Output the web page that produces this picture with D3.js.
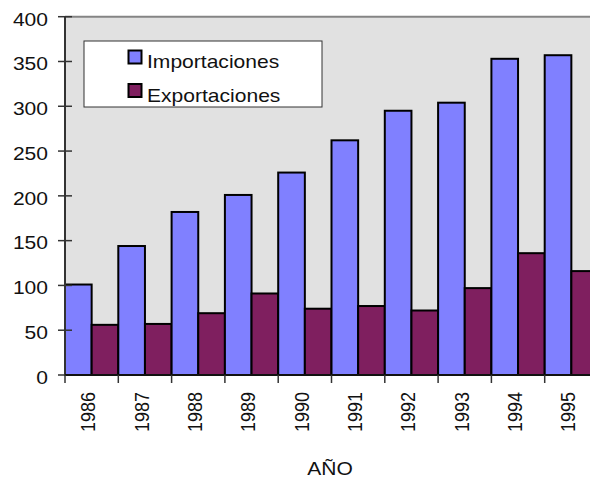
<!DOCTYPE html>
<html>
<head>
<meta charset="utf-8">
<script src="https://cdn.jsdelivr.net/npm/d3@7"></script>
<style>
  html, body { margin: 0; padding: 0; background: #ffffff; }
  svg { display: block; font-family: "Liberation Sans", Arial, sans-serif; }
</style>
</head>
<body>
<svg id="chart" width="590" height="482"></svg>
<script>
// Annual trade values, 1986-1995
const years = ["1986", "1987", "1988", "1989", "1990", "1991", "1992", "1993", "1994", "1995"];
const importaciones = [101, 144, 182, 201, 226, 262, 295, 304, 353, 357];
const exportaciones = [56, 57, 69, 91, 74, 77, 72, 97, 136, 116];
const seriesNames = ["Importaciones", "Exportaciones"];
const yTicks = [0, 50, 100, 150, 200, 250, 300, 350, 400];

const colors = ["#8080ff", "#7f1f5f"];
const stretch = 1.17; // glyphs are drawn slightly wide

const svg = d3.select("#chart");
const plotLeft = 65, plotRight = 598, plotTop = 16.7, plotBottom = 375;

const x = d3.scaleBand().domain(years).range([plotLeft, plotRight]).padding(0);
const xs = d3.scaleBand().domain(seriesNames).range([0, x.bandwidth()]).padding(0);
const y = d3.scaleLinear().domain([0, 400]).range([plotBottom, plotTop]);

// plot background
svg.append("rect")
  .attr("x", plotLeft).attr("y", plotTop)
  .attr("width", plotRight - plotLeft).attr("height", plotBottom - plotTop)
  .attr("fill", "#e1e1e1");

// top frame line
svg.append("line")
  .attr("x1", plotLeft).attr("x2", 590)
  .attr("y1", plotTop).attr("y2", plotTop)
  .attr("stroke", "#848484").attr("stroke-width", 2);

// bars
const rows = years.map((yr, i) => ({ year: yr, values: [importaciones[i], exportaciones[i]] }));
const groups = svg.append("g").selectAll("g").data(rows).join("g")
  .attr("transform", d => `translate(${x(d.year)},0)`);
groups.selectAll("rect")
  .data(d => d.values.map((v, k) => ({ k, v })))
  .join("rect")
  .attr("x", d => xs(seriesNames[d.k]))
  .attr("y", d => y(d.v))
  .attr("width", xs.bandwidth())
  .attr("height", d => y(0) - y(d.v))
  .attr("fill", d => colors[d.k])
  .attr("stroke", "#000")
  .attr("stroke-width", 2);

// y axis
const yAxis = svg.append("g");
yAxis.append("line")
  .attr("x1", plotLeft).attr("x2", plotLeft)
  .attr("y1", plotTop).attr("y2", plotBottom)
  .attr("stroke", "#333").attr("stroke-width", 2);
yAxis.selectAll("line.tick").data(yTicks).join("line")
  .attr("class", "tick")
  .attr("x1", 58).attr("x2", 72)
  .attr("y1", d => y(d)).attr("y2", d => y(d))
  .attr("stroke", "#333").attr("stroke-width", 1.5);
yAxis.selectAll("text").data(yTicks).join("text")
  .attr("transform", d => `translate(48,${y(d) + 8.8}) scale(${stretch},1)`)
  .attr("text-anchor", "end")
  .attr("font-size", 18)
  .attr("fill", "#111")
  .text(d => d);

// x axis
const xAxis = svg.append("g");
xAxis.append("line")
  .attr("x1", plotLeft).attr("x2", 590)
  .attr("y1", plotBottom).attr("y2", plotBottom)
  .attr("stroke", "#111").attr("stroke-width", 2);
xAxis.selectAll("line.tick").data(years.concat(["end"])).join("line")
  .attr("class", "tick")
  .attr("x1", (d, i) => plotLeft + i * x.step()).attr("x2", (d, i) => plotLeft + i * x.step())
  .attr("y1", plotBottom).attr("y2", plotBottom + 8)
  .attr("stroke", "#333").attr("stroke-width", 1.5);
xAxis.selectAll("text").data(years).join("text")
  .attr("transform", d => `translate(${x(d) + x.bandwidth() / 2 + 3.8},392) scale(${stretch},1) rotate(-90)`)
  .attr("text-anchor", "end")
  .attr("font-size", 18)
  .attr("fill", "#111")
  .text(d => d);

// axis title
svg.append("text")
  .attr("transform", `translate(330,475) scale(${stretch},1)`)
  .attr("text-anchor", "middle")
  .attr("font-size", 18)
  .attr("fill", "#111")
  .text("AÑO");

// legend
const legend = svg.append("g");
legend.append("rect")
  .attr("x", 84).attr("y", 41)
  .attr("width", 238).attr("height", 66)
  .attr("fill", "#ffffff")
  .attr("stroke", "#333").attr("stroke-width", 1);
const items = legend.selectAll("g").data(seriesNames).join("g")
  .attr("transform", (d, i) => `translate(0,${i * 33.5})`);
items.append("rect")
  .attr("x", 128.5).attr("y", 50.5)
  .attr("width", 13).attr("height", 13)
  .attr("fill", (d, i) => colors[i])
  .attr("stroke", "#000").attr("stroke-width", 2);
items.append("text")
  .attr("transform", `translate(147,68) scale(${stretch},1)`)
  .attr("font-size", 18)
  .attr("fill", "#111")
  .text(d => d);
</script>
</body>
</html>
